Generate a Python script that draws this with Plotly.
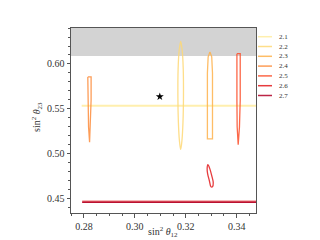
import plotly.graph_objects as go

# ---- data ----
labels = ["2.1", "2.2", "2.3", "2.4", "2.5", "2.6", "2.7"]
colors = ["#ffeda0", "#fed976", "#feb24c", "#fd8d3c", "#fc4e2a", "#e31a1c", "#b10026"]

c21_x = [0.2791, 0.3480]
c21_y = [0.5537, 0.5537]

c22_x = [0.3180, 0.3186, 0.3190, 0.3191, 0.3189, 0.3185, 0.3180, 0.3175, 0.3171, 0.3169, 0.3170, 0.3174, 0.3180]
c22_y = [0.6250, 0.6150, 0.5950, 0.5650, 0.5350, 0.5150, 0.5050, 0.5150, 0.5350, 0.5650, 0.5950, 0.6150, 0.6250]

c23_x = [0.3295, 0.3302, 0.3305, 0.3305, 0.3285, 0.3285, 0.3288, 0.3295]
c23_y = [0.6133, 0.6080, 0.5900, 0.5167, 0.5167, 0.5900, 0.6080, 0.6133]

c24_x = [0.2815, 0.2828, 0.2828, 0.2826, 0.2822, 0.2818, 0.2815, 0.2815]
c24_y = [0.5856, 0.5856, 0.5600, 0.5300, 0.5130, 0.5300, 0.5600, 0.5856]

c25_x = [0.3401, 0.3414, 0.3414, 0.3411, 0.3406, 0.3402, 0.3401, 0.3401]
c25_y = [0.6115, 0.6115, 0.5600, 0.5300, 0.5103, 0.5300, 0.5600, 0.6115]

c26a_x = [0.3287, 0.3294, 0.3302, 0.3308, 0.3305, 0.3299, 0.3293, 0.3286, 0.3284, 0.3287]
c26a_y = [0.4881, 0.4840, 0.4760, 0.4680, 0.4635, 0.4635, 0.4700, 0.4780, 0.4840, 0.4881]
c26b_x = [0.2793, 0.3480]
c26b_y = [0.4468, 0.4468]

c27_x = [0.2793, 0.3480]
c27_y = [0.4463, 0.4463]

star_x = [0.3098]
star_y = [0.5637]

band_lo, band_hi = 0.609, 0.640
x_range = [0.2749, 0.3476]
y_range = [0.4344, 0.6400]
x_ticks = [0.28, 0.30, 0.32, 0.34]
y_ticks = [0.45, 0.50, 0.55, 0.60]

font = "Liberation Serif, DejaVu Serif, serif"
fig = go.Figure()

fig.add_shape(type="rect", xref="x domain", yref="y", x0=0, x1=1, y0=band_lo, y1=band_hi,
              fillcolor="#d3d3d3", line=dict(width=0), layer="below")

def add(x, y, color, width=1.3, shape="linear", opacity=0.85):
    fig.add_trace(go.Scatter(x=x, y=y, mode="lines", line=dict(color=color, width=width, shape=shape),
                             opacity=opacity, showlegend=False, hoverinfo="skip"))

add(c21_x, c21_y, colors[0], width=2)
add(c22_x, c22_y, colors[1], shape="spline")
add(c23_x, c23_y, colors[2])
add(c24_x, c24_y, colors[3])
add(c25_x, c25_y, colors[4])
add(c26a_x, c26a_y, colors[5], shape="spline")
add(c26b_x, c26b_y, colors[5], width=2.5, opacity=0.6)
add(c27_x, c27_y, colors[6], width=1.6)

fig.add_trace(go.Scatter(x=star_x, y=star_y, mode="markers",
                         marker=dict(symbol="star", size=6, color="black"),
                         showlegend=False, hoverinfo="skip"))

# manual legend (paper coordinates relative to plot area)
L, T, W, H = 71, 28, 185, 185
for i, (lab, col) in enumerate(zip(labels, colors)):
    ypix = 36.7 + 9.8 * i
    yp = 1 - (ypix - T) / H
    fig.add_shape(type="line", xref="paper", yref="paper",
                  x0=(258 - L) / W, x1=(272 - L) / W, y0=yp, y1=yp,
                  line=dict(color=col, width=1.5), opacity=0.85)
    fig.add_annotation(text=lab, xref="paper", yref="paper", x=(277 - L) / W, y=yp,
                       xanchor="left", yanchor="middle", showarrow=False,
                       font=dict(family=font, size=7, color="#333"))

# axis titles
fig.add_annotation(text="sin<sup>2</sup> <i>θ</i><sub>12</sub>", xref="paper", yref="paper",
                   x=(163 - L) / W, y=-(232 - 213) / H, xanchor="center", yanchor="middle",
                   showarrow=False, font=dict(family=font, size=10, color="#333"))
fig.add_annotation(text="sin<sup>2</sup> <i>θ</i><sub>23</sub>", xref="paper", yref="paper",
                   x=(37 - L) / W, y=1 - (117 - T) / H, xanchor="center", yanchor="middle",
                   textangle=-90, showarrow=False, font=dict(family=font, size=10, color="#333"))

axis_common = dict(showgrid=False, zeroline=False, showline=True, linecolor="#555", linewidth=1,
                   mirror=True, ticks="outside", ticklen=3.5, tickwidth=0.8, tickcolor="#555",
                   tickfont=dict(family=font, size=10, color="#333"))

fig.update_xaxes(range=x_range, tickvals=x_ticks, ticktext=[f"{v:.2f}" for v in x_ticks],
                 minor=dict(dtick=0.005, tick0=0.28, ticks="outside", ticklen=2, tickcolor="#555", tickwidth=0.6),
                 **axis_common)
fig.update_yaxes(range=y_range, tickvals=y_ticks, ticktext=[f"{v:.2f}" for v in y_ticks],
                 minor=dict(dtick=0.01, tick0=0.45, ticks="outside", ticklen=2, tickcolor="#555", tickwidth=0.6),
                 **axis_common)

# page body has an 8px margin, so the figure is 8px smaller and margins shifted
fig.update_layout(width=312, height=232, margin=dict(l=63, r=64, t=20, b=27, autoexpand=False),
                  plot_bgcolor="white", paper_bgcolor="white", showlegend=False)

fig.write_html("out.html")
